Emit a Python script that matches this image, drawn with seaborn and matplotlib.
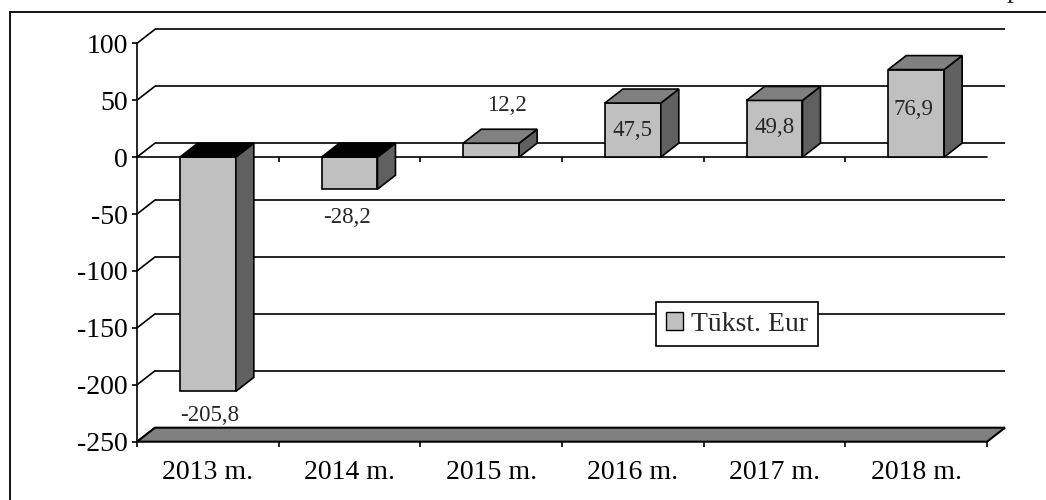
import matplotlib
matplotlib.use("Agg")
import matplotlib.pyplot as plt
from matplotlib.lines import Line2D
from matplotlib.patches import Polygon, Patch
import pandas as pd
import seaborn as sns

# ---------------- data ----------------
years = ["2013 m.", "2014 m.", "2015 m.", "2016 m.", "2017 m.", "2018 m."]
values = [-205.8, -28.2, 12.2, 47.5, 49.8, 76.9]
y_ticks = [100, 50, 0, -50, -100, -150, -200, -250]
series_name = "Tūkst. Eur"

# ---------------- layout / style ----------------
W, H, DPI = 1046, 500, 100
AX_L, AX_R, AX_T, AX_B = 137, 987, 43.3, 441.7
DEPTH_X, DEPTH_Y = 18, 14          # 3-D depth offset in pixels
label_dx = [2, -3, 16, 0, 0, -3]   # label offsets (px) from bar end
label_dy = [-29.4, -34, 32.5, -32.7, -33, -45.5]
FRONT, SIDE, TOP, NEG_TOP, FLOOR = "#C0C0C0", "#606060", "#808080", "#000000", "#808080"

sns.set_theme(style="white")
plt.rcParams["font.family"] = ["Liberation Serif", "DejaVu Serif"]
plt.rcParams["axes.unicode_minus"] = False

fig = plt.figure(figsize=(W / DPI, H / DPI), dpi=DPI, facecolor="white")
ax = fig.add_axes([AX_L / W, 1 - AX_B / H, (AX_R - AX_L) / W, (AX_B - AX_T) / H])
ax.set_facecolor("none")

df = pd.DataFrame({"year": years, "value": values})
sns.barplot(data=df, x="year", y="value", color=FRONT, saturation=1, width=0.395,
            edgecolor="black", linewidth=1.2, errorbar=None, ax=ax, zorder=4)
bars = list(ax.patches)

ymin, ymax = min(y_ticks), max(y_ticks)
ax.set_xlim(-0.5, len(years) - 0.5)
ax.set_ylim(ymin, ymax)
x_lo, x_hi = ax.get_xlim()

dxd = DEPTH_X / ((AX_R - AX_L) / (x_hi - x_lo))
dyd = DEPTH_Y / ((AX_B - AX_T) / (ymax - ymin))

LW = 1.2
# back wall grid lines and left diagonals
for v in y_ticks:
    ax.plot([x_lo + dxd, x_hi + dxd], [v + dyd, v + dyd], color="black", lw=LW,
            zorder=1, clip_on=False, solid_capstyle="butt")
    ax.plot([x_lo, x_lo + dxd], [v, v + dyd], color="black", lw=LW, zorder=1, clip_on=False)

# front zero line with category ticks
ax.plot([x_lo, x_hi], [0, 0], color="black", lw=LW, zorder=1.5, clip_on=False)
bounds = [i + 0.5 for i in range(len(years) - 1)]
ax.plot(bounds, [0] * len(bounds), ls="none", marker=3, ms=3.6, mew=LW, color="black",
        zorder=1.5, clip_on=False)

# floor
ax.add_patch(Polygon([(x_lo, ymin), (x_hi, ymin), (x_hi + dxd, ymin + dyd), (x_lo + dxd, ymin + dyd)],
                     closed=True, facecolor=FLOOR, edgecolor="black", lw=1.5, zorder=2, clip_on=False))

# 3-D faces of the bars
for p in bars:
    x0 = p.get_x()
    x1 = x0 + p.get_width()
    v = p.get_height()
    ax.add_patch(Polygon([(x1, 0), (x1, v), (x1 + dxd, v + dyd), (x1 + dxd, dyd)],
                         closed=True, facecolor=SIDE, edgecolor="black", lw=LW, zorder=4, clip_on=False))
    if v >= 0:
        top = [(x0, v), (x1, v), (x1 + dxd, v + dyd), (x0 + dxd, v + dyd)]
        fc = TOP
    else:
        top = [(x0, 0), (x1, 0), (x1 + dxd, dyd), (x0 + dxd, dyd)]
        fc = NEG_TOP
    ax.add_patch(Polygon(top, closed=True, facecolor=fc, edgecolor="black", lw=LW, zorder=4, clip_on=False))
    p.set_clip_on(False)

# value labels
for i, p in enumerate(bars):
    cx = p.get_x() + p.get_width() / 2
    v = values[i]
    ax.annotate(f"{v:.1f}".replace(".", ","), xy=(cx, v),
                xytext=(label_dx[i] * 72 / DPI, label_dy[i] * 72 / DPI), textcoords="offset points",
                ha="center", va="baseline", fontsize=16.5, zorder=6, annotation_clip=False)

# axes styling
for s in ["top", "right", "bottom"]:
    ax.spines[s].set_visible(False)
ax.spines["left"].set_color("black")
ax.spines["left"].set_linewidth(LW)
ax.set_yticks(y_ticks)
ax.set_yticklabels([str(t) for t in y_ticks])
ax.tick_params(axis="y", left=True, direction="out", length=3.6, width=LW, pad=3,
               labelsize=20, colors="black")
ax.set_xticks(range(len(years)))
ax.set_xticklabels(years)
ax.set_xticks([x_lo + i for i in range(len(years) + 1)], minor=True)
ax.tick_params(axis="x", which="major", bottom=False, length=0, pad=13, labelsize=20, colors="black")
ax.tick_params(axis="x", which="minor", bottom=True, direction="out", length=3.6, width=LW, colors="black")
ax.set_xlabel("")
ax.set_ylabel("")
ax.grid(False)

leg = ax.legend(handles=[Patch(facecolor=FRONT, edgecolor="black", lw=1.0)], labels=[series_name],
                loc="upper right", bbox_to_anchor=(818 / W, 1 - 302 / H), bbox_transform=fig.transFigure,
                frameon=True, fancybox=False, edgecolor="black", framealpha=1, fontsize=20,
                handlelength=0.6, handleheight=0.6, handletextpad=0.3, borderpad=0.35, borderaxespad=0)
leg.get_frame().set_linewidth(LW)
leg.set_zorder(10)

# outer frame
fig.add_artist(Line2D([10 / W, 1.0], [1 - 12 / H, 1 - 12 / H], transform=fig.transFigure, color="black", lw=1.3))
fig.add_artist(Line2D([10 / W, 10 / W], [0, 1 - 12 / H], transform=fig.transFigure, color="black", lw=1.3))
# descender of a header letter cut by the top edge, as in the reference
fig.text(1007 / W, 1 + 3.5 / H, "p", fontsize=20, ha="left", va="baseline")

fig.savefig("out.png", dpi=DPI, facecolor="white")
